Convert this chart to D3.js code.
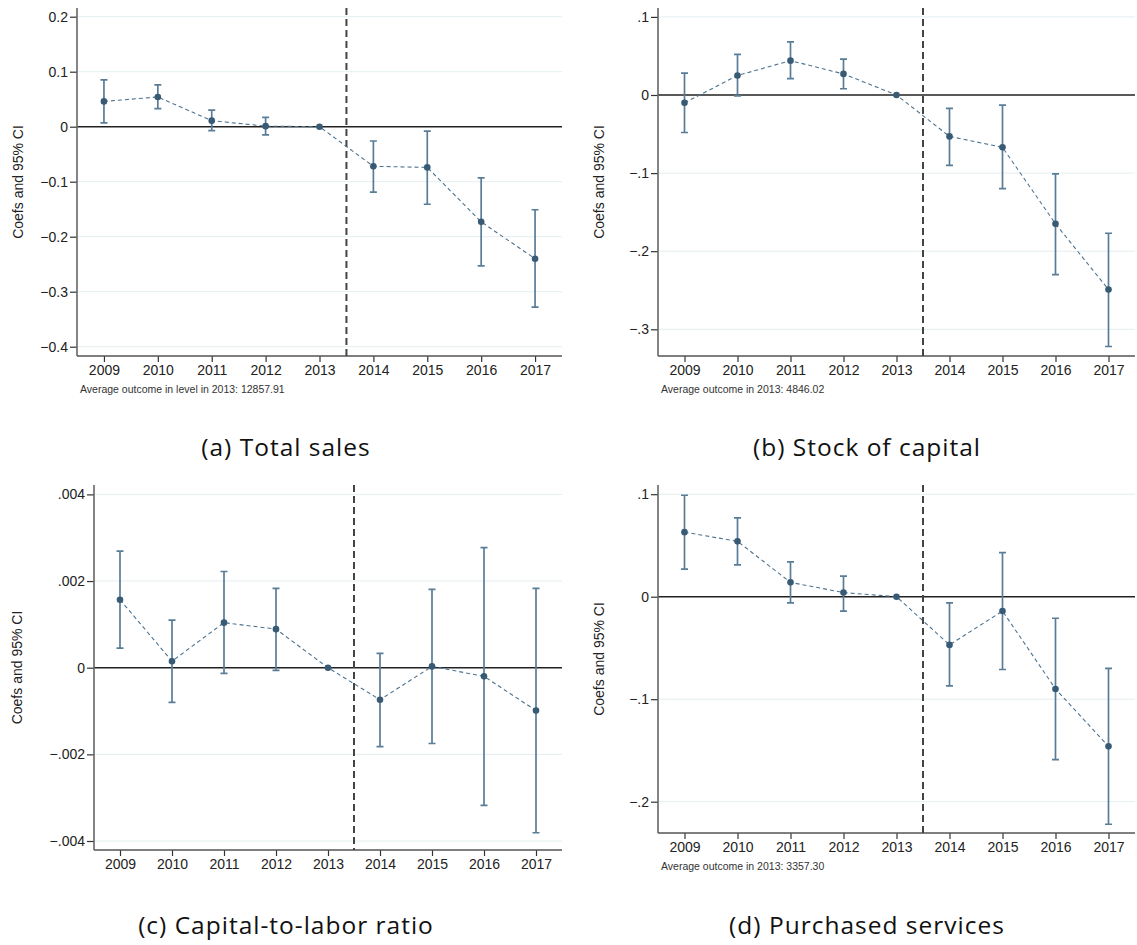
<!DOCTYPE html>
<html>
<head>
<meta charset="utf-8">
<script src="https://cdn.jsdelivr.net/npm/d3@7"></script>
<style>
	body { margin:0; background:#fff; }
	svg { display:block; font-family:"Liberation Sans", Arial, sans-serif; }
	.grid line { stroke:#e5eef1; stroke-width:1; }
	.tick-lab { font-size:14px; fill:#222; }
	.ytitle { font-size:14px; fill:#222; }
	.note { font-size:10.5px; fill:#333; }
	.caption { font-family:"Open Sans", sans-serif; font-size:24.5px; letter-spacing:1px; fill:#111; }
</style>
</head>
<body>
<svg id="chart" width="1137" height="945"></svg>
<script>
// event-study years
var years = [2009, 2010, 2011, 2012, 2013, 2014, 2015, 2016, 2017];

// (a) total sales
var salesCoef = [0.046, 0.054, 0.011, 0.001, 0, -0.072, -0.074, -0.173, -0.240];
var salesLo   = [0.007, 0.033, -0.007, -0.015, null, -0.119, -0.141, -0.253, -0.328];
var salesHi   = [0.085, 0.076, 0.030, 0.017, null, -0.026, -0.008, -0.093, -0.151];
var salesTicks = [0.2, 0.1, 0, -0.1, -0.2, -0.3, -0.4];
var salesTickLabels = ["0.2", "0.1", "0", "\u22120.1", "\u22120.2", "\u22120.3", "\u22120.4"];

// (b) stock of capital
var capitalCoef = [-0.010, 0.025, 0.044, 0.027, 0, -0.053, -0.067, -0.165, -0.249];
var capitalLo   = [-0.048, -0.001, 0.021, 0.008, null, -0.090, -0.120, -0.230, -0.322];
var capitalHi   = [0.028, 0.052, 0.068, 0.046, null, -0.017, -0.013, -0.101, -0.177];
var capitalTicks = [0.1, 0, -0.1, -0.2, -0.3];
var capitalTickLabels = [".1", "0", "\u2212.1", "\u2212.2", "\u2212.3"];

// (c) capital-to-labor ratio
var ratioCoef = [0.00157, 0.00015, 0.00104, 0.00089, 0, -0.00074, 0.00003, -0.00020, -0.00099];
var ratioLo   = [0.00045, -0.00080, -0.00013, -0.00006, null, -0.00182, -0.00175, -0.00318, -0.00381];
var ratioHi   = [0.00269, 0.00110, 0.00222, 0.00183, null, 0.00033, 0.00181, 0.00277, 0.00183];
var ratioTicks = [0.004, 0.002, 0, -0.002, -0.004];
var ratioTickLabels = [".004", ".002", "0", "\u2212.002", "\u2212.004"];

// (d) purchased services
var servicesCoef = [0.063, 0.054, 0.014, 0.004, 0, -0.047, -0.014, -0.090, -0.146];
var servicesLo   = [0.027, 0.031, -0.006, -0.014, null, -0.087, -0.071, -0.159, -0.222];
var servicesHi   = [0.099, 0.077, 0.034, 0.020, null, -0.006, 0.043, -0.021, -0.070];
var servicesTicks = [0.1, 0, -0.1, -0.2];
var servicesTickLabels = [".1", "0", "\u2212.1", "\u2212.2"];

var treatYear = 2013.5;

var svg = d3.select("#chart");

function panel(opts){
	// opts: plot box in px, scale pinned by two (value, px) pairs
	var x = d3.scaleLinear().domain([2008.5, 2017.5]).range([opts.left, opts.right]);
	var y = d3.scaleLinear().domain([opts.v0, opts.v1]).range([opts.p0, opts.p1]);
	var g = svg.append("g");

	var rows = years.map(function(yr, i){
		return {year:yr, coef:opts.coef[i], lo:opts.lo[i], hi:opts.hi[i]};
	});

	// grid
	g.append("g").attr("class","grid")
		.selectAll("line").data(opts.ticks.filter(function(t){ return t !== 0; }))
		.enter().append("line")
		.attr("x1", opts.left).attr("x2", opts.right)
		.attr("y1", function(d){ return y(d); }).attr("y2", function(d){ return y(d); });

	// zero line
	g.append("line")
		.attr("x1", opts.left).attr("x2", opts.right)
		.attr("y1", y(0)).attr("y2", y(0))
		.attr("stroke", "#222").attr("stroke-width", 1.5);

	// y axis
	var yAxis = d3.axisLeft(y).tickValues(opts.ticks)
		.tickFormat(function(d, i){ return opts.labels[i]; })
		.tickSize(7).tickPadding(2);
	var ya = g.append("g").attr("transform", "translate(" + opts.left + ",0)").call(yAxis);
	ya.select(".domain").remove();
	ya.selectAll(".tick line").attr("stroke", "#333").attr("stroke-width", 1.2);
	ya.selectAll("text").attr("class","tick-lab").attr("font-family", null).attr("font-size", null);
	g.append("line")
		.attr("x1", opts.left).attr("x2", opts.left)
		.attr("y1", opts.top).attr("y2", opts.bottom)
		.attr("stroke", "#666").attr("stroke-width", 1.6);

	// x axis
	var xAxis = d3.axisBottom(x).tickValues(years).tickFormat(d3.format("d"))
		.tickSize(6).tickPadding(3);
	var xa = g.append("g").attr("transform", "translate(0," + opts.bottom + ")").call(xAxis);
	xa.select(".domain").remove();
	xa.selectAll(".tick line").attr("stroke", "#333").attr("stroke-width", 1.2);
	xa.selectAll("text").attr("class","tick-lab").attr("font-family", null).attr("font-size", null);
	g.append("line")
		.attr("x1", opts.left).attr("x2", opts.right)
		.attr("y1", opts.bottom).attr("y2", opts.bottom)
		.attr("stroke", "#555").attr("stroke-width", 1.6);

	// treatment line
	g.append("line")
		.attr("x1", x(treatYear)).attr("x2", x(treatYear))
		.attr("y1", opts.top).attr("y2", opts.bottom)
		.attr("stroke", "#444").attr("stroke-width", 2)
		.attr("stroke-dasharray", "7,4");

	// connecting line
	var line = d3.line().x(function(d){ return x(d.year); }).y(function(d){ return y(d.coef); });
	g.append("path").datum(rows)
		.attr("d", line)
		.attr("fill", "none")
		.attr("stroke", "#4d7390").attr("stroke-width", 1.1)
		.attr("stroke-dasharray", "4,3");

	// confidence intervals (2013 is the reference year, no CI)
	var ci = rows.filter(function(d){ return d.lo !== null; });
	var cap = 3.5;
	var cig = g.append("g").attr("stroke", "#5a7d97").attr("stroke-width", 1.7).attr("fill", "none");
	cig.selectAll(".ci").data(ci).enter().append("path")
		.attr("d", function(d){
			var cx = x(d.year), yl = y(d.lo), yh = y(d.hi);
			return "M" + (cx-cap) + "," + yh + "H" + (cx+cap) +
				"M" + cx + "," + yh + "V" + yl +
				"M" + (cx-cap) + "," + yl + "H" + (cx+cap);
		});

	// points
	g.selectAll(".pt").data(rows).enter().append("circle")
		.attr("cx", function(d){ return x(d.year); })
		.attr("cy", function(d){ return y(d.coef); })
		.attr("r", 3.3)
		.attr("fill", "#375a75");

	// y title
	g.append("text").attr("class","ytitle")
		.attr("transform", "translate(" + opts.titleX + "," + ((opts.top + opts.bottom)/2) + ") rotate(-90)")
		.attr("text-anchor", "middle")
		.attr("dy", "0.35em")
		.text("Coefs and 95% CI");

	if (opts.note) {
		g.append("text").attr("class","note")
			.attr("x", opts.left + 3).attr("y", opts.bottom + 37)
			.text(opts.note);
	}

	svg.append("text").attr("class","caption")
		.attr("x", opts.capX).attr("y", opts.capY)
		.attr("text-anchor", "middle")
		.text(opts.caption);
}

panel({
	left:77, right:562, top:8, bottom:356,
	v0:0, p0:126.7, v1:-0.4, p1:346.7,
	coef:salesCoef, lo:salesLo, hi:salesHi,
	ticks:salesTicks, labels:salesTickLabels,
	titleX:18, note:"Average outcome in level in 2013: 12857.91",
	caption:"(a) Total sales", capX:286, capY:456
});
panel({
	left:658, right:1135, top:8, bottom:356,
	v0:0, p0:95, v1:-0.3, p1:329.3,
	coef:capitalCoef, lo:capitalLo, hi:capitalHi,
	ticks:capitalTicks, labels:capitalTickLabels,
	titleX:599, note:"Average outcome in 2013: 4846.02",
	caption:"(b) Stock of capital", capX:867, capY:456
});
panel({
	left:94, right:562, top:485, bottom:850,
	v0:0, p0:667.7, v1:-0.004, p1:841,
	coef:ratioCoef, lo:ratioLo, hi:ratioHi,
	ticks:ratioTicks, labels:ratioTickLabels,
	titleX:17, note:null,
	caption:"(c) Capital-to-labor ratio", capX:286, capY:934
});
panel({
	left:658, right:1135, top:485, bottom:833,
	v0:0, p0:596.7, v1:-0.2, p1:801.7,
	coef:servicesCoef, lo:servicesLo, hi:servicesHi,
	ticks:servicesTicks, labels:servicesTickLabels,
	titleX:599, note:"Average outcome in 2013: 3357.30",
	caption:"(d) Purchased services", capX:867, capY:934
});
</script>
</body>
</html>
